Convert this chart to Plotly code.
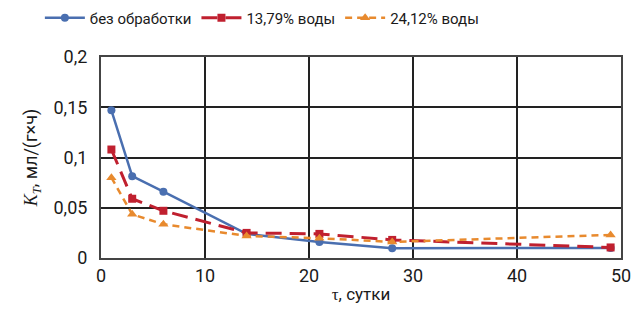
import plotly.graph_objects as go

# Сутки выдержки
days = [1, 3, 6, 14, 21, 28, 49]

# Коэффициент K_T, мл/(г×ч)
k_untreated = [0.147, 0.0815, 0.066, 0.024, 0.016, 0.0098, 0.010]
k_1379 = [0.108, 0.059, 0.047, 0.025, 0.024, 0.018, 0.0105]
k_2412 = [0.080, 0.0435, 0.0336, 0.022, 0.0197, 0.016, 0.023]

series_names = ["без обработки", "13,79% воды", "24,12% воды"]

x_ticks = [0, 10, 20, 30, 40, 50]
y_ticks = [0, 0.05, 0.1, 0.15, 0.2]
y_tick_text = ["0", "0,05", "0,1", "0,15", "0,2"]

font_family = "Roboto, Open Sans, sans-serif"
serif = "Liberation Serif, serif"

fig = go.Figure()
fig.add_trace(go.Scatter(
    x=days, y=k_untreated, name=series_names[0], mode="lines+markers",
    line=dict(color="#4a6fb0", width=2.5),
    marker=dict(symbol="circle", size=8, color="#4a6fb0"),
))
fig.add_trace(go.Scatter(
    x=days, y=k_1379, name=series_names[1], mode="lines+markers",
    line=dict(color="#c0202f", width=3, dash="16px,8px"),
    marker=dict(symbol="square", size=8, color="#c0202f"),
))
fig.add_trace(go.Scatter(
    x=days, y=k_2412, name=series_names[2], mode="lines+markers",
    line=dict(color="#e88a2e", width=2.5, dash="7px,5px"),
    marker=dict(symbol="triangle-up", size=9, color="#e88a2e"),
))

fig.update_layout(
    width=643, height=320,
    margin=dict(l=101, r=16, t=42, b=62),
    paper_bgcolor="white", plot_bgcolor="white",
    font=dict(family=font_family, size=17, color="#1a1a1a"),
    showlegend=True,
    legend=dict(
        orientation="h", xref="container", yref="container",
        x=0.062, xanchor="left", y=0.944, yanchor="middle",
        font=dict(size=15), itemwidth=40,
        bgcolor="rgba(0,0,0,0)", tracegroupgap=0,
    ),
    xaxis=dict(
        range=[0, 50], tickvals=x_ticks, ticktext=[str(v) for v in x_ticks],
        tickfont=dict(size=18),
        showgrid=True, gridcolor="#222222", gridwidth=2,
        showline=True, linecolor="#444444", linewidth=2, mirror=True,
        zeroline=False, ticks="",
        title=dict(text=f"<span style='font-family:{serif}'>τ</span>, сутки",
                   font=dict(size=17), standoff=4),
    ),
    yaxis=dict(
        range=[0, 0.2], tickvals=y_ticks, ticktext=y_tick_text,
        tickfont=dict(size=18),
        showgrid=True, gridcolor="#222222", gridwidth=2,
        showline=True, linecolor="#444444", linewidth=2, mirror=True,
        zeroline=False, ticks="", ticklabelstandoff=8,
        title=dict(text=f"<span style='font-family:{serif}'><i>K<sub>T</sub></i></span>, мл/(г×ч)",
                   font=dict(size=18), standoff=11),
    ),
)

fig.write_html("out.html")
